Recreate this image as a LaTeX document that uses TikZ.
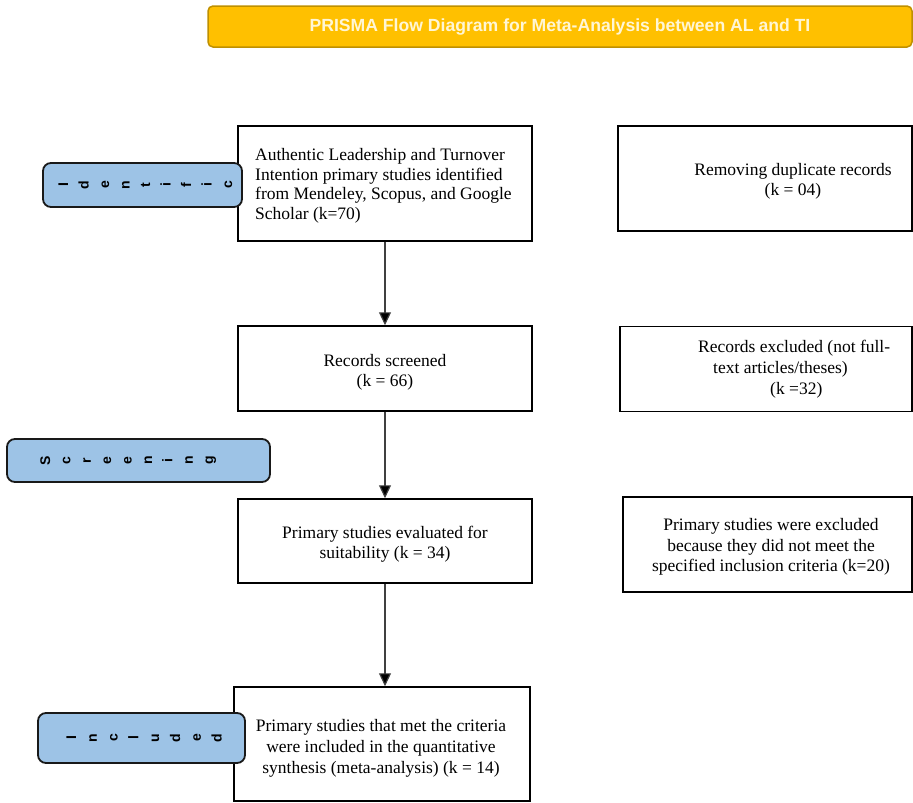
\documentclass[tikz,border=0pt]{standalone}
\usepackage{fontspec}
\setmainfont{Liberation Serif}
\newfontfamily\lsans{Liberation Sans}
\usetikzlibrary{arrows.meta}
\definecolor{gold}{HTML}{FFC000}
\definecolor{golddark}{HTML}{BF9000}
\definecolor{cream}{HTML}{FFF6D5}
\definecolor{sideblue}{HTML}{9DC3E6}
\definecolor{arrowgray}{HTML}{404040}
\tikzset{
  mainbox/.style={draw=black, line width=1.5pt, fill=white, rectangle, inner sep=0pt},
  sidebox/.style={draw=black!90, line width=1.8pt, fill=sideblue, rounded corners=8pt, rectangle, inner sep=0pt},
  titlebox/.style={draw=golddark, line width=1.5pt, fill=gold, rounded corners=5pt, rectangle, inner sep=0pt},
  bodytext/.style={font=\fontsize{17.5}{20}\selectfont, inner sep=0pt},
  sideletter/.style={font=\lsans\bfseries\fontsize{14}{15}\selectfont, rotate=90, anchor=base, inner sep=0pt},
  flowarrow/.style={draw=arrowgray, line width=1.2pt, -{Triangle[width=12pt,length=13pt,fill=black]}}
}
\begin{document}
\begin{tikzpicture}[x=1pt,y=-1pt]
\useasboundingbox (0,0) rectangle (913,803);
% title
\node[titlebox, minimum width=704pt, minimum height=41pt] (title) at (560,26.5) {};
\node[font=\lsans\bfseries\fontsize{17.6}{20}\selectfont, text=cream] (titletext) at (560,27) {PRISMA Flow Diagram for Meta-Analysis between AL and TI};
% main boxes
\node[mainbox, minimum width=294pt, minimum height=115pt] (A) at (385,183.5) {};
\node[mainbox, minimum width=294pt, minimum height=105pt] (R1) at (765,178.5) {};
\node[mainbox, minimum width=294pt, minimum height=85pt] (B) at (385,368.5) {};
\node[mainbox, minimum width=292pt, minimum height=85pt] (R2) at (766,369) {};
\node[mainbox, minimum width=294pt, minimum height=84pt] (C) at (385,541) {};
\node[mainbox, minimum width=289pt, minimum height=95pt] (R3) at (767.5,544.5) {};
\node[mainbox, minimum width=296pt, minimum height=114pt] (D) at (382,744) {};
% texts
\node[bodytext, anchor=west, align=left, font=\fontsize{17.5}{19.5}\selectfont] (tA) at (255,186)
  {Authentic Leadership and Turnover\\Intention primary studies identified\\from Mendeley, Scopus, and Google\\Scholar (k=70)};
\node[bodytext, align=center] (tR1) at (793,181) {Removing duplicate records\\(k = 04)};
\node[bodytext, align=center] (tB) at (385,372) {Records screened\\(k = 66)};
\node[bodytext, anchor=west, align=left, font=\fontsize{17.5}{21}\selectfont] (tR2) at (698,369)
  {Records excluded (not full-\\\hspace*{15pt}text articles/theses)\\\hspace*{72pt}(k =32)};
\node[bodytext, align=center] (tC) at (385,544) {Primary studies evaluated for\\suitability (k = 34)};
\node[bodytext, align=center, font=\fontsize{17.5}{20.5}\selectfont] (tR3) at (771,547) {Primary studies were excluded\\because they did not meet the\\specified inclusion criteria (k=20)};
\node[bodytext, align=center, font=\fontsize{17.5}{21}\selectfont] (tD) at (381,748) {Primary studies that met the criteria\\were included in the quantitative\\synthesis (meta-analysis) (k = 14)};
% arrows
\draw[flowarrow] (A.south) -- (B.north);
\draw[flowarrow] (B.south) -- (C.north);
\draw[flowarrow] (C.south) -- (C.south |- D.north);
% side labels
\node[sidebox, minimum width=199pt, minimum height=44pt] (sideI) at (142.5,185) {};
\foreach \ch [count=\k] in {I,d,e,n,t,i,f,i,c}
  \node[sideletter] (sideI\k) at ({68+20.5*(\k-1)},185) {\ch};
\node[sidebox, minimum width=263pt, minimum height=43pt] (sideS) at (138.5,460.5) {};
\foreach \ch [count=\k] in {S,c,r,e,e,n,i,n,g}
  \node[sideletter] (sideS\k) at ({50+20.4*(\k-1)},460.5) {\ch};
\node[sidebox, minimum width=207pt, minimum height=50pt] (sideC) at (141.5,738) {};
\foreach \ch [count=\k] in {I,n,c,l,u,d,e,d}
  \node[sideletter] (sideC\k) at ({76+20.8*(\k-1)},738) {\ch};
\end{tikzpicture}
\end{document}
